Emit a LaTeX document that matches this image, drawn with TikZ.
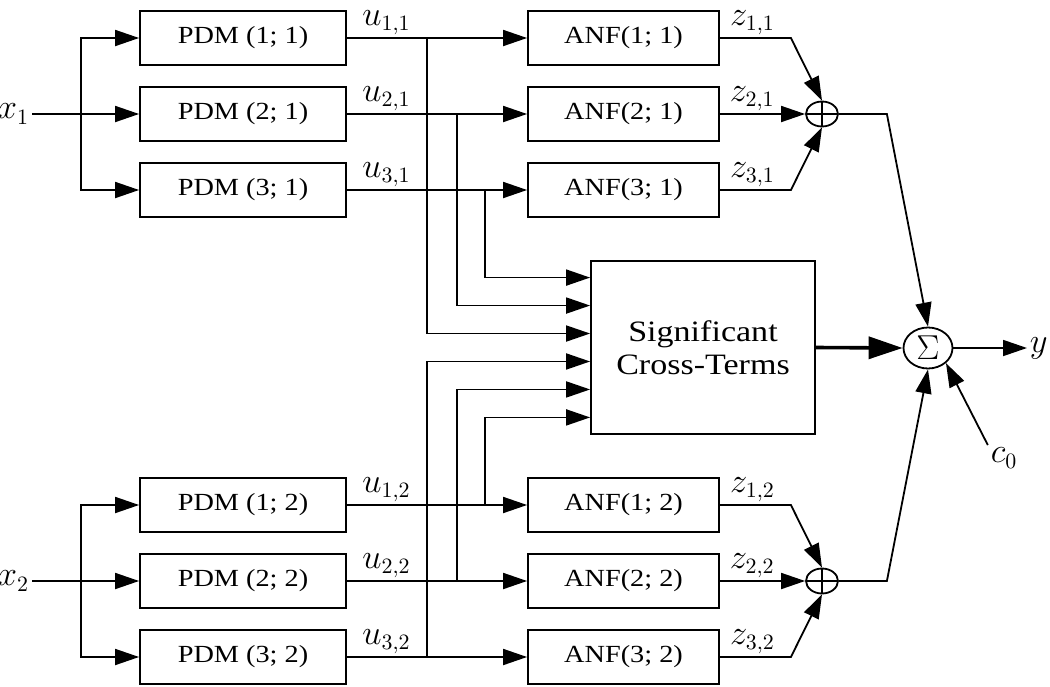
\documentclass[tikz,border=0pt]{standalone}
\usepackage{fontspec}
\setmainfont{Liberation Serif}[FakeStretch=1.15]
\usetikzlibrary{arrows.meta}
\usetikzlibrary{calc, shapes.geometric}

\tikzset{
    block/.style={draw, minimum width=103pt, minimum height=27pt, inner sep=0pt},
    anfblock/.style={block, minimum width=95.5pt},
    pfeil/.style={-{Triangle[length=12pt,width=8pt]}},
    pfeildick/.style={line width=1.8pt, -{Triangle[length=17pt,width=11pt]}},
    lbl/.style={font=\fontsize{16}{18}\selectfont, inner sep=1pt},
    addierer/.style={draw, ellipse, minimum width=16pt, minimum height=12.5pt, inner sep=0pt,
        path picture={\draw (path picture bounding box.north) -- (path picture bounding box.south)
            (path picture bounding box.west) -- (path picture bounding box.east);}}
}

\begin{document}
\begin{tikzpicture}[x=0.5pt, y=-0.5pt, line width=0.9pt, font=\fontsize{12.3}{14}\selectfont]
    \useasboundingbox (0,0) rectangle (1050,686);
    % PDM- und ANF-Bloecke
    \foreach \g/\yo in {1/0, 2/467} {
        \foreach \i/\y in {1/38, 2/114, 3/190} {
            \node[block] (pdm\i\g) at (243,\y+\yo) {PDM (\i; \g)};
            \node[anfblock] (anf\i\g) at (623.5,\y+\yo) {ANF(\i; \g)};
        }
    }
    % Kreuzterm-Block und Summen
    \node[draw, minimum width=112pt, minimum height=86.5pt, align=center,
        font=\fontsize{14.8}{16.5}\selectfont] (kreuz) at (703,347.5) {Significant\\Cross-Terms};
    \node[draw, ellipse, minimum width=24.5pt, minimum height=20.5pt, inner sep=0pt,
        font=\fontsize{16}{18}\selectfont] (sigma) at (928,348) {$\Sigma$};
    \node[addierer] (plus1) at (822,114) {};
    \node[addierer] (plus2) at (822,581) {};
    % Eingaenge x und Verzweigung
    \foreach \g/\y in {1/114, 2/581} {
        \node[lbl, anchor=east] (x\g) at (32,\y) {$x_\g$};
        \coordinate (s\g) at (81,\y);
        \draw[pfeil] (x\g.east) -- (pdm2\g.west);
        \draw[pfeil] (s\g) |- (pdm1\g.west);
        \draw[pfeil] (s\g) |- (pdm3\g.west);
    }
    % u-Leitungen zu den ANF-Bloecken
    \foreach \g in {1,2} {
        \foreach \i in {1,2,3} {
            \draw[pfeil] (pdm\i\g.east) -- node[lbl, pos=0.22, above] {$u_{\i,\g}$} (anf\i\g.west);
        }
    }
    % Abgriffe zum Kreuzterm-Block
    \foreach \i/\g/\p/\k in {1/1/0.443/0.42, 2/1/0.612/0.26, 3/1/0.765/0.1,
                             3/2/0.443/0.58, 2/2/0.612/0.74, 1/2/0.765/0.9} {
        \draw[pfeil] ($(pdm\i\g.east)!\p!(anf\i\g.west)$) |- ($(kreuz.north west)!\k!(kreuz.south west)$);
    }
    % z-Leitungen zu den Addierern
    \foreach \g in {1,2} {
        \draw[pfeil] (anf1\g.east) -- node[lbl, pos=0.46, above] {$z_{1,\g}$} ++(71,0) -- (plus\g.north);
        \draw[pfeil] (anf2\g.east) -- node[lbl, pos=0.38, above] {$z_{2,\g}$} (plus\g.west);
        \draw[pfeil] (anf3\g.east) -- node[lbl, pos=0.46, above] {$z_{3,\g}$} ++(71,0) -- (plus\g.south);
    }
    % Ausgangssumme
    \draw[pfeil] (plus1.east) -- ++(48,0) -- (sigma.north);
    \draw[pfeil] (plus2.east) -- ++(48,0) -- (sigma.south);
    \draw[pfeildick] (kreuz.east) -- (sigma.west);
    \node[lbl, anchor=west] (y) at (1027,348) {$y$};
    \draw[pfeil] (sigma.east) -- (y.west);
    \node[lbl] (c0) at (1004,458) {$c_0$};
    \draw[pfeil] (c0.north west) -- (sigma.south east);
\end{tikzpicture}
\end{document}
